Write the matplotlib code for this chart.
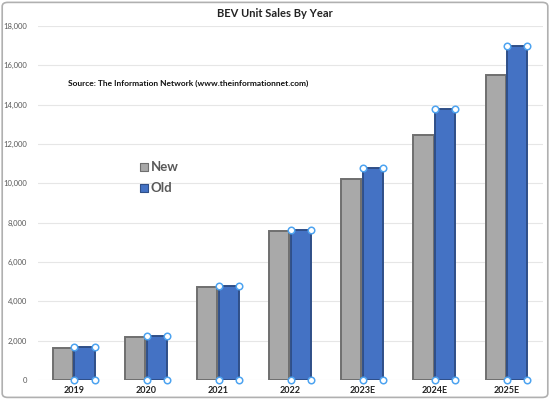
import matplotlib
matplotlib.use("Agg")
import matplotlib.pyplot as plt
import numpy as np
from matplotlib.patches import FancyBboxPatch
from matplotlib.ticker import FuncFormatter

plt.rcParams['font.family'] = ['Lato', 'DejaVu Sans']

years = ["2019", "2020", "2021", "2022", "2023E", "2024E", "2025E"]
new_vals = [1650, 2200, 4750, 7600, 10200, 12450, 15500]
old_vals = [1700, 2250, 4800, 7650, 10800, 13800, 17000]
yticks = [0, 2000, 4000, 6000, 8000, 10000, 12000, 14000, 16000, 18000]

fig = plt.figure(figsize=(5.5, 3.99), dpi=100)
ax = fig.add_axes([0.069, 0.0476, 0.918, 0.8874])

x = np.arange(len(years))
w = 0.28
ax.bar(x - 0.155, new_vals, width=w, color="#a9a9a9", edgecolor="#6f6f6f", linewidth=1.4, zorder=3)
ax.bar(x + 0.145, old_vals, width=w, color="#4472c4", edgecolor="#2f4f88", linewidth=1.4, zorder=3)

# selection handles on "Old" bars
hx = np.concatenate([x + 0.145 - w / 2, x + 0.145 + w / 2, x + 0.145 - w / 2, x + 0.145 + w / 2])
hy = np.concatenate([old_vals, old_vals, np.zeros(len(x)), np.zeros(len(x))])
ax.scatter(hx, hy, s=22, facecolor="white", edgecolor="#4da3f0", linewidth=1.1, zorder=5, clip_on=False)

ax.set_xlim(-0.5, len(years) - 0.5)
ax.set_ylim(0, 18000)
ax.set_yticks(yticks)
ax.yaxis.set_major_formatter(FuncFormatter(lambda v, p: f"{int(v):,}"))
ax.set_xticks(x)
ax.set_xticklabels(years, fontweight="bold", fontsize=6.5, color="#222222")
ax.tick_params(axis="y", labelsize=5.5, labelcolor="#595959", length=0, pad=8)
ax.tick_params(axis="x", length=0, pad=4)
ax.grid(axis="y", color="#e6e6e6", linewidth=0.8, zorder=0)
for s in ax.spines.values():
    s.set_visible(False)

fig.text(0.5, 0.965, "BEV Unit Sales By Year", ha="center", va="center",
         fontsize=8, fontweight="bold", color="#222222")
ax.text(0.06, 0.838, "Source: The Information Network (www.theinformationnet.com)",
        transform=ax.transAxes, fontsize=6, fontweight="bold", color="#111111", va="center")

# legend
leg_items = [("New", "#a9a9a9", "#6f6f6f"), ("Old", "#4472c4", "#2f4f88")]
for i, (lab, fc, ec) in enumerate(leg_items):
    yy = 0.602 - i * 0.06
    ax.scatter([0.211], [yy], marker="s", s=26, facecolor=fc, edgecolor=ec, linewidth=0.8,
               transform=ax.transAxes, zorder=6, clip_on=False)
    ax.text(0.223, yy, lab, transform=ax.transAxes, fontsize=9.5, fontweight="bold",
            color="#595959", va="center")

border = FancyBboxPatch((0.004, 0.004), 0.992, 0.99, boxstyle="round,pad=0,rounding_size=0.01",
                        transform=fig.transFigure, facecolor="none", edgecolor="#b0b0b0", linewidth=1.2)
fig.patches.append(border)

fig.savefig("out.png", dpi=100)
